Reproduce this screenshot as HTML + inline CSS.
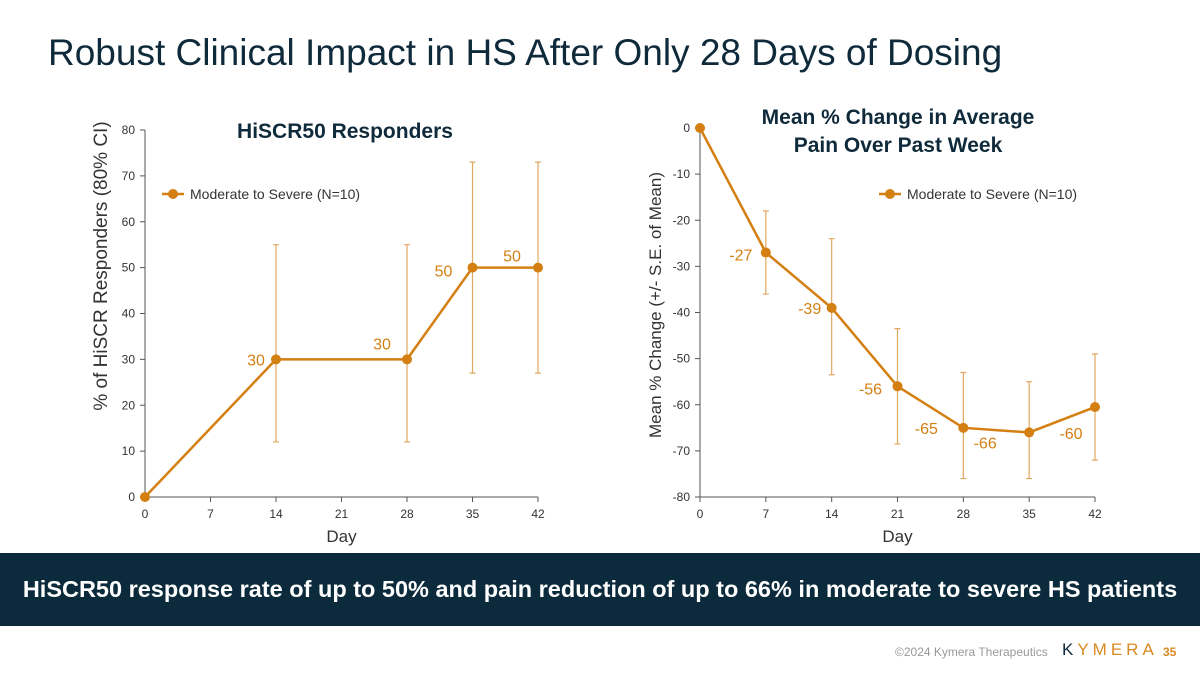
<!DOCTYPE html>
<html><head><meta charset="utf-8"><style>
body{margin:0;width:1200px;height:675px;background:#fff;overflow:hidden;font-family:"Liberation Sans",sans-serif;position:relative}
.t{position:absolute}
</style></head><body>
<div class="t" style="left:48px;top:32px;font-size:37px;color:#0f2a3a;white-space:nowrap">Robust Clinical Impact in HS After Only 28 Days of Dosing</div>
<svg id="c" width="1200" height="675" style="position:absolute;left:0;top:0"></svg>
<div class="t" style="left:0;top:553px;width:1200px;height:73px;background:#0b2a3b;color:#fff;font-weight:bold;font-size:23.5px;line-height:73px;text-align:center;white-space:nowrap">HiSCR50 response rate of up to 50% and pain reduction of up to 66% in moderate to severe HS patients</div>
<div class="t" style="left:895px;top:645px;font-size:12px;color:#999">©2024 Kymera Therapeutics</div>
<div class="t" style="left:1062px;top:640px;font-size:17px;letter-spacing:4px;color:#d98a1f"><span style="color:#0b2a3b">K</span>YMERA</div>
<div class="t" style="left:1163px;top:645px;font-size:12px;font-weight:bold;color:#d98a1f">35</div>
<script>
const leftDays=[0,14,28,35,42];
const leftVals=[0,30,30,50,50];
const leftLo=[null,12,12,27,27];
const leftHi=[null,55,55,73,73];
const leftLabels=["","30","30","50","50"];
const leftTicks=[0,10,20,30,40,50,60,70,80];
const rightDays=[0,7,14,21,28,35,42];
const rightVals=[0,-27,-39,-56,-65,-66,-60.5];
const rightLo=[null,-36,-53.5,-68.5,-76,-76,-72];
const rightHi=[null,-18,-24,-43.5,-53,-55,-49];
const rightLabels=["","-27","-39","-56","-65","-66","-60"];
const rightTicks=[0,-10,-20,-30,-40,-50,-60,-70,-80];
const xTicks=[0,7,14,21,28,35,42];
const leftOff=[[0,0],[-20,0],[-25,-16],[-29,3],[-26,-12]];
const rightOff=[[0,0],[-25,2],[-22,0],[-27,2],[-37,0],[-44,10],[-24,26]];
const svg=document.getElementById('c');const NS='http://www.w3.org/2000/svg';
const O='#d47f12',A='#0f2a3a';
function el(t,a,p){const e=document.createElementNS(NS,t);for(const k in a)e.setAttribute(k,a[k]);(p||svg).appendChild(e);return e;}
function chart(cfg){
 const g=el('g',{});
 
 
 const X=d=>cfg.x0+(d-0)/42*(cfg.x1-cfg.x0);
 const Y=v=>cfg.yb+(v-cfg.vmin)/(cfg.vmax-cfg.vmin)*(cfg.yt-cfg.yb);
 const ax=el('path',{d:`M${cfg.x0} ${Y(cfg.vmax)}V${Y(cfg.vmin)}H${cfg.x1}`,stroke:'#555',fill:'none','stroke-width':1},g);
 
 cfg.yticks.forEach(v=>{el('line',{x1:cfg.x0-5,x2:cfg.x0,y1:Y(v),y2:Y(v),stroke:'#555'},g);
  const t=el('text',{x:cfg.x0-10,y:Y(v)+4,'text-anchor':'end','font-size':12,fill:'#333'},g);t.textContent=v;
  });
 xTicks.forEach(d=>{el('line',{x1:X(d),x2:X(d),y1:Y(cfg.vmin),y2:Y(cfg.vmin)+5,stroke:'#555'},g);
  const t=el('text',{x:X(d),y:Y(cfg.vmin)+21,'text-anchor':'middle','font-size':12,fill:'#333'},g);t.textContent=d;
  });
 const xt=el('text',{x:(cfg.x0+cfg.x1)/2,y:542,'text-anchor':'middle','font-size':17,fill:'#333'},g);xt.textContent='Day';
 
 const yt=el('text',{transform:`translate(${cfg.ytx},${cfg.yty}) rotate(-90)`,'text-anchor':'middle','font-size':cfg.ytfs,fill:'#333'},g);yt.textContent=cfg.ytitle;
 
 cfg.days.forEach((d,i)=>{if(cfg.lo[i]==null)return;
  const e=el('path',{d:`M${X(d)} ${Y(cfg.lo[i])}V${Y(cfg.hi[i])}M${X(d)-3} ${Y(cfg.lo[i])}h6M${X(d)-3} ${Y(cfg.hi[i])}h6`,stroke:'#e0a860','stroke-width':1.2,fill:'none'},g);
  });
 const ln=el('polyline',{points:cfg.days.map((d,i)=>X(d)+','+Y(cfg.vals[i])).join(' '),stroke:O,'stroke-width':2.5,fill:'none'},g);
 
 cfg.days.forEach((d,i)=>{const c=el('circle',{cx:X(d),cy:Y(cfg.vals[i]),r:5,fill:O},g);
  
  if(cfg.labels[i]){const t=el('text',{x:X(d)+cfg.off[i][0],y:Y(cfg.vals[i])+cfg.off[i][1]+6,'text-anchor':'middle','font-size':16,fill:O},g);t.textContent=cfg.labels[i];
   }});
 const lg=el('g',{},g);
 el('line',{x1:cfg.lgx,x2:cfg.lgx+22,y1:194,y2:194,stroke:O,'stroke-width':2.5},lg);
 el('circle',{cx:cfg.lgx+11,cy:194,r:5,fill:O},lg);
 const lt=el('text',{x:cfg.lgx+28,y:199,'font-size':14,fill:'#333'},lg);lt.textContent='Moderate to Severe (N=10)';
 cfg.title.forEach((s,k)=>{const t=el('text',{x:cfg.tx,y:cfg.ty+k*28,'text-anchor':'middle','font-size':21,'font-weight':'bold',fill:A},g);t.textContent=s;
  });
}
chart({name:'hiscr50-chart',x0:145,x1:538,yb:497,yt:130,vmin:0,vmax:80,yticks:leftTicks,days:leftDays,vals:leftVals,lo:leftLo,hi:leftHi,labels:leftLabels,off:leftOff,
 ytitle:'% of HiSCR Responders (80% CI)',ytfs:19,ytx:107,yty:266,lgx:162,title:['HiSCR50 Responders'],tx:345,ty:138});
chart({name:'pain-change-chart',x0:700,x1:1095,yb:497,yt:128,vmin:-80,vmax:0,yticks:rightTicks,days:rightDays,vals:rightVals,lo:rightLo,hi:rightHi,labels:rightLabels,off:rightOff,
 ytitle:'Mean % Change (+/- S.E. of Mean)',ytfs:17,ytx:661,yty:305,lgx:879,title:['Mean % Change in Average','Pain Over Past Week'],tx:898,ty:124});
</script>
</body></html>
